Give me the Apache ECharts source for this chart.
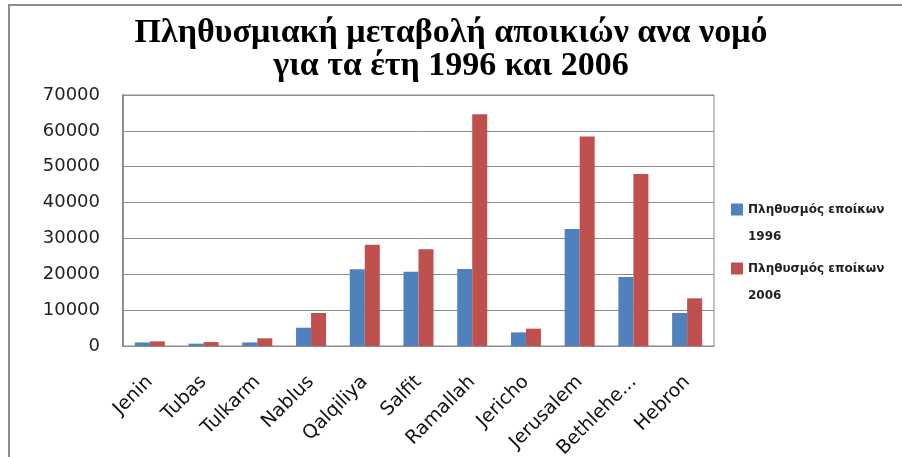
<!DOCTYPE html>
<html>
<head>
<meta charset="utf-8">
<script src="https://cdn.jsdelivr.net/npm/echarts@6/dist/echarts.min.js"></script>
<style>html,body{margin:0;padding:0;background:#fff}#c{width:902px;height:457px}</style>
</head>
<body>
<div id="c"></div>
<script>
const titleText = 'Πληθυσμιακή μεταβολή αποικιών ανα νομό\nγια τα έτη 1996 και 2006';
const categories = ['Jenin','Tubas','Tulkarm','Nablus','Qalqiliya','Salfit','Ramallah','Jericho','Jerusalem','Bethlehe...','Hebron'];
const seriesNames = ['Πληθυσμός εποίκων 1996','Πληθυσμός εποίκων 2006'];
const values1996 = [1000, 650, 1000, 5100, 21400, 20700, 21500, 3800, 32600, 19250, 9200];
const values2006 = [1300, 1100, 2150, 9200, 28250, 26950, 64600, 4830, 58400, 48000, 13300];
const yTicks = [0, 10000, 20000, 30000, 40000, 50000, 60000, 70000];

const chart = echarts.init(document.getElementById('c'), null, {renderer:'canvas'});
chart.setOption({
  animation: false,
  backgroundColor: '#fff',
  graphic: [{
    type: 'polyline',
    shape: {points: [[9, 470], [9, 5], [910, 5]]},
    style: {stroke: '#8c8c8c', lineWidth: 2, fill: null}
  }],
  title: {
    text: titleText,
    left: 'center',
    top: 12,
    textStyle: {fontFamily: 'Liberation Serif', fontWeight: 'bold', fontSize: 34, lineHeight: 33, color: '#000'}
  },
  legend: {
    orient: 'vertical',
    left: 726,
    top: 164,
    itemWidth: 12,
    itemHeight: 12,
    itemGap: -22,
    icon: 'rect',
    formatter: function (n) { return ' \n' + n.replace(/ (\d{4})$/, '\n$1'); },
    textStyle: {fontFamily: 'DejaVu Sans', fontSize: 12, fontWeight: 'bold', lineHeight: 27, color: '#222'}
  },
  grid: {
    left: 123, top: 95, right: 188, bottom: 111,
    show: true, borderColor: '#888', borderWidth: 1,
    containLabel: false, outerBoundsMode: 'none'
  },
  xAxis: {
    type: 'category',
    data: categories,
    axisLine: {lineStyle: {color: '#8c8c8c', width: 1}},
    axisTick: {show: false},
    axisLabel: {rotate: 45, margin: 33, fontFamily: 'DejaVu Sans', fontSize: 19, color: '#111', interval: 0}
  },
  yAxis: {
    type: 'value',
    min: yTicks[0],
    max: yTicks[yTicks.length - 1],
    interval: 10000,
    axisLine: {show: true, lineStyle: {color: '#8c8c8c', width: 2}},
    axisTick: {show: false},
    axisLabel: {margin: 23, fontFamily: 'DejaVu Sans', fontSize: 18, color: '#222', formatter: function (v) { return String(v); }},
    splitLine: {lineStyle: {color: '#8c8c8c', width: 1}}
  },
  series: [
    {name: seriesNames[0], type: 'bar', data: values1996, barWidth: 15, barGap: '0%', itemStyle: {color: '#4F81BD'}},
    {name: seriesNames[1], type: 'bar', data: values2006, barWidth: 15, barGap: '0%', itemStyle: {color: '#C0504D'}}
  ]
});
</script>
</body>
</html>
